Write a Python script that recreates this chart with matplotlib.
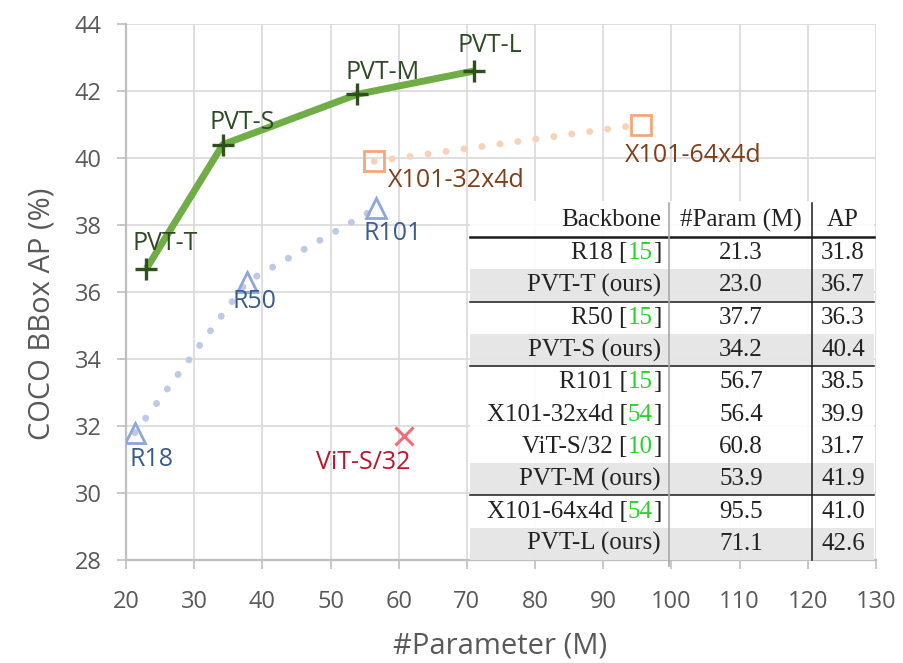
import matplotlib
matplotlib.use("Agg")
import matplotlib.pyplot as plt
from matplotlib.offsetbox import TextArea, HPacker, AnnotationBbox
from matplotlib.patches import Rectangle
from matplotlib.lines import Line2D

# ---------------- data ----------------
pvt_names = ["PVT-T", "PVT-S", "PVT-M", "PVT-L"]
pvt_params = [23.0, 34.2, 53.9, 71.1]
pvt_ap = [36.7, 40.4, 41.9, 42.6]

res_names = ["R18", "R50", "R101"]
res_params = [21.3, 37.7, 56.7]
res_ap = [31.8, 36.3, 38.5]

x101_names = ["X101-32x4d", "X101-64x4d"]
x101_params = [56.4, 95.5]
x101_ap = [39.9, 41.0]

vit_names = ["ViT-S/32"]
vit_params = [60.8]
vit_ap = [31.7]

x_ticks = [20, 30, 40, 50, 60, 70, 80, 90, 100, 110, 120, 130]
y_ticks = [28, 30, 32, 34, 36, 38, 40, 42, 44]

tbl_header = ["Backbone", "#Param (M)", "AP"]
tbl_backbone = ["R18", "PVT-T", "R50", "PVT-S", "R101", "X101-32x4d",
                "ViT-S/32", "PVT-M", "X101-64x4d", "PVT-L"]
tbl_ref = ["15", "ours", "15", "ours", "15", "54", "10", "ours", "54", "ours"]
tbl_param = ["21.3", "23.0", "37.7", "34.2", "56.7", "56.4", "60.8", "53.9", "95.5", "71.1"]
tbl_ap = ["31.8", "36.7", "36.3", "40.4", "38.5", "39.9", "31.7", "41.9", "41.0", "42.6"]
tbl_rule_after = [1, 3, 7]

# ---------------- figure ----------------
W, H = 904, 663
fig = plt.figure(figsize=(W / 100, H / 100), dpi=100)
ax = fig.add_axes([126 / W, 1 - 560 / H, 750 / W, 536 / H])

SANS = ["Open Sans", "DejaVu Sans"]
SERIF = ["Liberation Serif", "DejaVu Serif"]
GRAY = "#595959"

ax.set_xlim(20, 130)
ax.set_ylim(28, 44)
ax.set_xticks(x_ticks)
ax.set_yticks(y_ticks)
ax.grid(True, color="#D9D9D9", lw=1.2, zorder=0)
ax.set_axisbelow(True)
for s in ["top", "right"]:
    ax.spines[s].set_visible(False)
for s in ["left", "bottom"]:
    ax.spines[s].set_color("#BFBFBF")
    ax.spines[s].set_linewidth(1.6)
ax.tick_params(axis="both", colors="#BFBFBF", labelcolor=GRAY, length=6.5, width=1.2,
               labelsize=17)
ax.tick_params(axis="y", pad=11)
ax.tick_params(axis="x", pad=15)
for lab in ax.get_xticklabels() + ax.get_yticklabels():
    lab.set_family(SANS)

ax.set_xlabel("#Parameter (M)", fontsize=21, color=GRAY, family=SANS)
ax.set_ylabel("COCO BBox AP (%)", fontsize=21, color=GRAY, family=SANS)
ax.xaxis.set_label_coords(0.499, -0.134)
ax.yaxis.set_label_coords(-0.093, 0.459)

# ---------------- series ----------------
ax.plot(res_params, res_ap, color="#BEC9E6", lw=5.0, ls=(0, (0.01, 2.6)),
        dash_capstyle="round", zorder=2)
ax.plot(x101_params, x101_ap, color="#F8D2B8", lw=5.0, ls=(0, (0.01, 2.6)),
        dash_capstyle="round", zorder=2)
ax.plot(pvt_params, pvt_ap, color="#70AD47", lw=5.0, solid_capstyle="butt", zorder=3)

ax.plot(pvt_params, pvt_ap, ls="none", marker="+", ms=16, mew=2.4, color="#2F4F1C", zorder=4)
ax.plot(res_params, res_ap, ls="none", marker="^", ms=14, mew=2.0, mfc="none",
        mec="#8FA6DA", zorder=4)
ax.plot(x101_params, x101_ap, ls="none", marker="s", ms=14, mew=2.0, mfc="none",
        mec="#F4A77A", zorder=4)
ax.plot(vit_params, vit_ap, ls="none", marker="x", ms=13, mew=2.2, color="#F06D78", zorder=4)

# ---------------- point labels ----------------
def lab(name, x, y, dx, dy, color, ha="left"):
    ax.annotate(name, (x, y), xytext=(dx, dy), textcoords="offset pixels",
                ha=ha, va="center", fontsize=18, color=color, family=SANS, zorder=5)

pvt_off = [(-14, 25), (-13, 22), (-12, 22), (-17, 25)]
for n, x, y, (dx, dy) in zip(pvt_names, pvt_params, pvt_ap, pvt_off):
    lab(n, x, y, dx, dy, "#2E4A22")
res_off = [(-5, -27), (-14, -20), (-13, -25)]
for n, x, y, (dx, dy) in zip(res_names, res_params, res_ap, res_off):
    lab(n, x, y, dx, dy, "#3B5B8C")
x101_off = [(14, -19), (-16, -31)]
for n, x, y, (dx, dy) in zip(x101_names, x101_params, x101_ap, x101_off):
    lab(n, x, y, dx, dy, "#7F3F1A")
lab(vit_names[0], vit_params[0], vit_ap[0], 6, -26, "#C0142C", ha="right")

# ---------------- table ----------------
def fx(px):
    return px / W

def fy(py):
    return 1 - py / H

TL, TR = 470, 874
T_TOP, HEAD_LINE, ROW_H = 201, 237, 32.3
COL_BB_RIGHT, COL_PARAM_C, COL_AP_C = 661, 741, 843
SEP1, SEP2 = 669, 812
n_rows = len(tbl_backbone)
T_BOT = HEAD_LINE + n_rows * ROW_H

fig.patches.append(Rectangle((fx(TL), fy(T_BOT)), fx(TR) - fx(TL), fy(T_TOP) - fy(T_BOT),
                             transform=fig.transFigure, facecolor="white", alpha=0.88,
                             edgecolor="none", zorder=6))
for i, ref in enumerate(tbl_ref):
    if ref == "ours":
        top = HEAD_LINE + i * ROW_H
        fig.patches.append(Rectangle((fx(TL), fy(top + ROW_H)), fx(TR) - fx(TL),
                                     fy(top) - fy(top + ROW_H), transform=fig.transFigure,
                                     facecolor="#E4E4E4", alpha=0.92, edgecolor="none",
                                     zorder=6))

def hline(py, lw):
    fig.lines.append(Line2D([fx(TL), fx(TR)], [fy(py), fy(py)], transform=fig.transFigure,
                            color="#1A1A1A", lw=lw, zorder=7))

hline(HEAD_LINE, 1.8)
for i in tbl_rule_after:
    hline(HEAD_LINE + (i + 1) * ROW_H, 1.1)
fig.lines.append(Line2D([fx(SEP1)] * 2, [fy(T_TOP + 2), fy(T_BOT + 6)], transform=fig.transFigure,
                        color="#A8A8A8", lw=1.2, zorder=7))
fig.lines.append(Line2D([fx(SEP2)] * 2, [fy(T_TOP + 2), fy(T_BOT)], transform=fig.transFigure,
                        color="#1A1A1A", lw=1.1, zorder=7))

TFS = 18
TCOL = "#222222"

def ttext(s, px, py, ha):
    fig.text(fx(px), fy(py), s, ha=ha, va="center", fontsize=TFS, color=TCOL,
             family=SERIF, zorder=8)

head_y = (T_TOP + HEAD_LINE) / 2 + 1
ttext(tbl_header[0], COL_BB_RIGHT, head_y, "right")
ttext(tbl_header[1], COL_PARAM_C, head_y, "center")
ttext(tbl_header[2], COL_AP_C, head_y, "center")

for i in range(n_rows):
    cy = HEAD_LINE + (i + 0.5) * ROW_H
    tp = dict(fontsize=TFS, color=TCOL, family=SERIF)
    if tbl_ref[i] == "ours":
        parts = [TextArea(tbl_backbone[i] + " (ours)", textprops=tp)]
    else:
        parts = [TextArea(tbl_backbone[i] + " [", textprops=tp),
                 TextArea(tbl_ref[i], textprops=dict(tp, color="#2BD12B")),
                 TextArea("]", textprops=tp)]
    box = HPacker(children=parts, align="baseline", pad=0, sep=0)
    ab = AnnotationBbox(box, (fx(COL_BB_RIGHT), fy(cy)), xycoords="figure fraction",
                        box_alignment=(1, 0.5), frameon=False, pad=0, zorder=8)
    ab.set_zorder(8)
    fig.add_artist(ab)
    ttext(tbl_param[i], COL_PARAM_C, cy, "center")
    ttext(tbl_ap[i], COL_AP_C, cy, "center")

fig.savefig("out.png", dpi=100)
